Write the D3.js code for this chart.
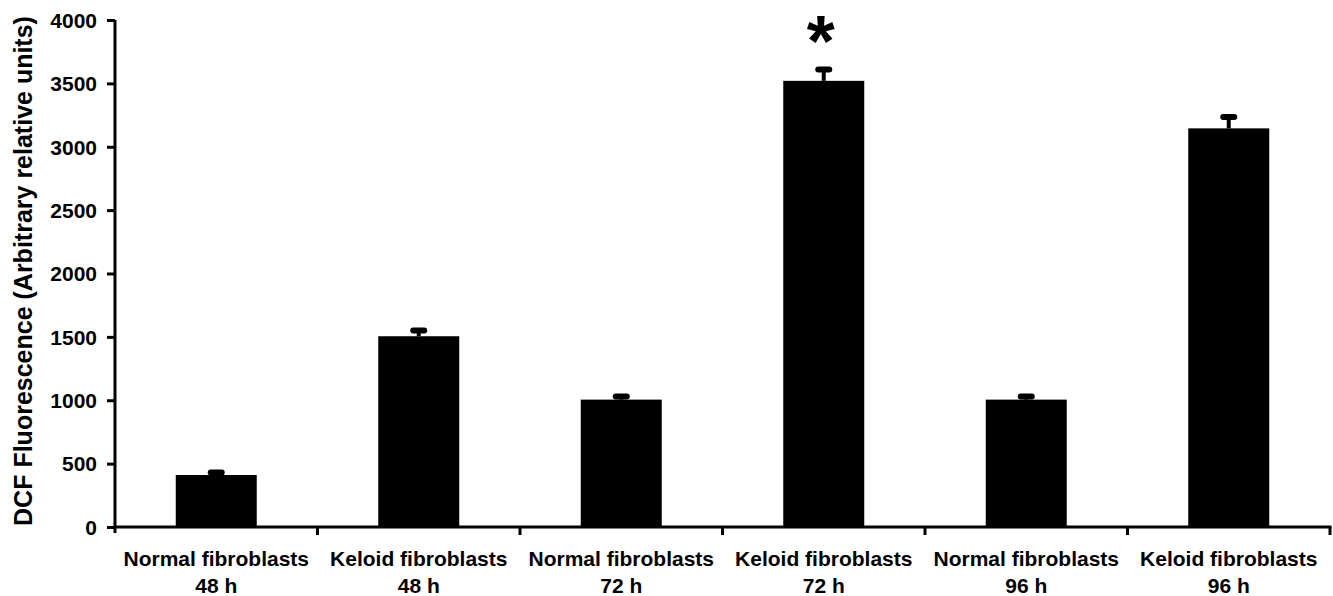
<!DOCTYPE html>
<html>
<head>
<meta charset="utf-8">
<script src="https://cdn.jsdelivr.net/npm/d3@7"></script>
<style>
  html, body { margin: 0; padding: 0; background: #fff; }
  svg { display: block; }
  text { font-family: "Liberation Sans", Arial, Helvetica, sans-serif; font-weight: bold; fill: #000; }
</style>
</head>
<body>
<svg id="chart" width="1333" height="596"></svg>
<script>
// DCF fluorescence per fibroblast group and time point
const cellTypes = ["Normal fibroblasts", "Keloid fibroblasts", "Normal fibroblasts", "Keloid fibroblasts", "Normal fibroblasts", "Keloid fibroblasts"];
const timePoints = ["48 h", "48 h", "72 h", "72 h", "96 h", "96 h"];
const meanValues = [410, 1505, 1005, 3520, 1005, 3145];
const errorValues = [20, 45, 25, 90, 25, 90];
const significant = [false, false, false, true, false, false];
const yTicks = [0, 500, 1000, 1500, 2000, 2500, 3000, 3500, 4000];
const yTitle = "DCF Fluorescence (Arbitrary relative units)";

const svg = d3.select("#chart");
const plotLeft = 115, plotRight = 1330, plotTop = 20, plotBottom = 527;

const x = d3.scaleBand()
  .domain(d3.range(meanValues.length))
  .range([plotLeft, plotRight])
  .paddingInner(0.6)
  .paddingOuter(0.3);

const y = d3.scaleLinear().domain([0, 4000]).range([plotBottom, plotTop]);

// bars
svg.append("g").selectAll("rect")
  .data(meanValues)
  .join("rect")
  .attr("x", (d, i) => x(i))
  .attr("width", x.bandwidth())
  .attr("y", d => y(d))
  .attr("height", d => y(0) - y(d))
  .attr("fill", "#000");

// error bars (upper only)
const eb = svg.append("g");
meanValues.forEach((v, i) => {
  const cx = x(i) + x.bandwidth() / 2;
  eb.append("line")
    .attr("x1", cx).attr("x2", cx)
    .attr("y1", y(v)).attr("y2", y(v + errorValues[i]))
    .attr("stroke", "#000").attr("stroke-width", 4);
  eb.append("line")
    .attr("x1", cx - 5.5).attr("x2", cx + 5.5)
    .attr("y1", y(v + errorValues[i])).attr("y2", y(v + errorValues[i]))
    .attr("stroke", "#000").attr("stroke-width", 6).attr("stroke-linecap", "round");
});

// significance marker
svg.append("g").selectAll("text")
  .data(meanValues.map((v, i) => ({ v, i })).filter(d => significant[d.i]))
  .join("text")
  .attr("x", d => x(d.i) + x.bandwidth() / 2 - 3)
  .attr("y", 66)
  .attr("text-anchor", "middle")
  .style("font-size", "72px")
  .text("*");

// y axis
const yAxis = svg.append("g")
  .attr("transform", `translate(${plotLeft},0)`)
  .call(d3.axisLeft(y).tickValues(yTicks).tickSize(8).tickPadding(10).tickFormat(d3.format("d")));
yAxis.select(".domain").attr("d", `M0,${plotTop}V${plotBottom + 6}`).attr("stroke-width", 3);
yAxis.selectAll(".tick line").attr("stroke-width", 3);
yAxis.selectAll(".tick text").style("font-size", "21px").attr("dy", "0.35em");

// x axis with ticks at band boundaries
const boundaries = d3.range(meanValues.length + 1).map(i => plotLeft + i * (plotRight - plotLeft) / meanValues.length);
const xAxis = svg.append("g");
xAxis.append("line")
  .attr("x1", plotLeft - 1.5).attr("x2", plotRight + 1.5)
  .attr("y1", plotBottom).attr("y2", plotBottom)
  .attr("stroke", "#000").attr("stroke-width", 3);
xAxis.selectAll("line.tk")
  .data(boundaries.slice(1))
  .join("line")
  .attr("class", "tk")
  .attr("x1", d => d).attr("x2", d => d)
  .attr("y1", plotBottom).attr("y2", plotBottom + 8)
  .attr("stroke", "#000").attr("stroke-width", 3);

// category labels
const lab = xAxis.selectAll("text")
  .data(cellTypes)
  .join("text")
  .attr("text-anchor", "middle")
  .style("font-size", "21px");
lab.append("tspan")
  .attr("x", (d, i) => x(i) + x.bandwidth() / 2)
  .attr("y", 566)
  .text(d => d);
lab.append("tspan")
  .attr("x", (d, i) => x(i) + x.bandwidth() / 2)
  .attr("y", 593)
  .text((d, i) => timePoints[i]);

// y axis title
svg.append("text")
  .attr("transform", `translate(32,${(15 + 527) / 2}) rotate(-90)`)
  .attr("text-anchor", "middle")
  .style("font-size", "25px")
  .text(yTitle);
</script>
</body>
</html>
